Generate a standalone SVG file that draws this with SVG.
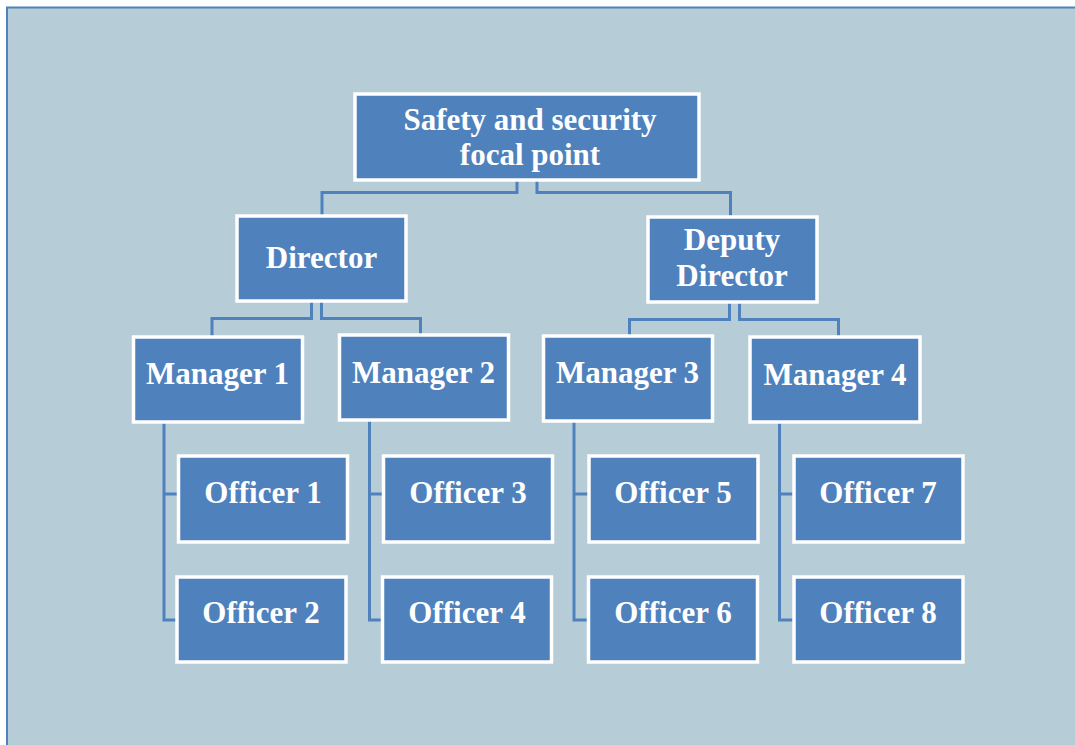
<svg xmlns="http://www.w3.org/2000/svg" width="1075" height="745" viewBox="0 0 1075 745">
<style>
.box{fill:#4f81bd;stroke:#ffffff;stroke-width:3.5}
.lbl{font-family:"Liberation Serif","Times New Roman",serif;font-weight:bold;font-size:31px;fill:#ffffff;text-anchor:middle}
.conn{fill:none;stroke:#4f81bd;stroke-width:3}
</style>
<rect x="0" y="0" width="1075" height="745" fill="#ffffff"/>
<rect x="7" y="7.5" width="1080" height="760" fill="#b6cdd7" stroke="#4f81bd" stroke-width="2"/>
<g id="connectors">
<polyline class="conn" points="517,181 517,192.5 322,192.5 322,215"/>
<polyline class="conn" points="537,181 537,192.5 730.5,192.5 730.5,216"/>
<polyline class="conn" points="311.5,302 311.5,318.5 212,318.5 212,336"/>
<polyline class="conn" points="321.5,302 321.5,318.5 420.5,318.5 420.5,334"/>
<polyline class="conn" points="729.5,303 729.5,319.5 629.5,319.5 629.5,335"/>
<polyline class="conn" points="739.5,303 739.5,319.5 838.5,319.5 838.5,336"/>
<polyline class="conn" points="164,423 164,620 176,620"/>
<line class="conn" x1="164" y1="494" x2="178" y2="494"/>
<polyline class="conn" points="369.5,421 369.5,620 382,620"/>
<line class="conn" x1="369.5" y1="494" x2="383" y2="494"/>
<polyline class="conn" points="574,421 574,620 588,620"/>
<line class="conn" x1="574" y1="494" x2="588" y2="494"/>
<polyline class="conn" points="779.5,423 779.5,620 793,620"/>
<line class="conn" x1="779.5" y1="494" x2="793" y2="494"/>
</g>
<g id="n-focal"><rect class="box" x="355" y="94" width="344" height="86"/><text class="lbl" x="530" y="130">Safety and security</text><text class="lbl" x="530" y="165">focal point</text></g>
<g id="n-director"><rect class="box" x="237" y="216" width="169" height="85"/><text class="lbl" x="321.5" y="268">Director</text></g>
<g id="n-deputy"><rect class="box" x="648" y="217" width="169" height="85"/><text class="lbl" x="732" y="250">Deputy</text><text class="lbl" x="732" y="286">Director</text></g>
<g id="n-m1"><rect class="box" x="133.5" y="337" width="169" height="85"/><text class="lbl" x="217.5" y="384">Manager 1</text></g>
<g id="n-m2"><rect class="box" x="339.5" y="335" width="169" height="85"/><text class="lbl" x="423.5" y="383">Manager 2</text></g>
<g id="n-m3"><rect class="box" x="543.5" y="336" width="169" height="85"/><text class="lbl" x="627.5" y="383">Manager 3</text></g>
<g id="n-m4"><rect class="box" x="750" y="337" width="170" height="85"/><text class="lbl" x="835" y="385">Manager 4</text></g>
<g id="n-o1"><rect class="box" x="178.5" y="456" width="169" height="86"/><text class="lbl" x="263" y="503">Officer 1</text></g>
<g id="n-o2"><rect class="box" x="177" y="577" width="169" height="85"/><text class="lbl" x="261" y="623">Officer 2</text></g>
<g id="n-o3"><rect class="box" x="383.5" y="456" width="169" height="86"/><text class="lbl" x="468" y="503">Officer 3</text></g>
<g id="n-o4"><rect class="box" x="382.5" y="577" width="169" height="85"/><text class="lbl" x="467" y="623">Officer 4</text></g>
<g id="n-o5"><rect class="box" x="589" y="456" width="169" height="86"/><text class="lbl" x="673" y="503">Officer 5</text></g>
<g id="n-o6"><rect class="box" x="588.5" y="577" width="169" height="85"/><text class="lbl" x="673" y="623">Officer 6</text></g>
<g id="n-o7"><rect class="box" x="794" y="456" width="169" height="86"/><text class="lbl" x="878" y="503">Officer 7</text></g>
<g id="n-o8"><rect class="box" x="794" y="577" width="169" height="85"/><text class="lbl" x="878" y="623">Officer 8</text></g>
</svg>
